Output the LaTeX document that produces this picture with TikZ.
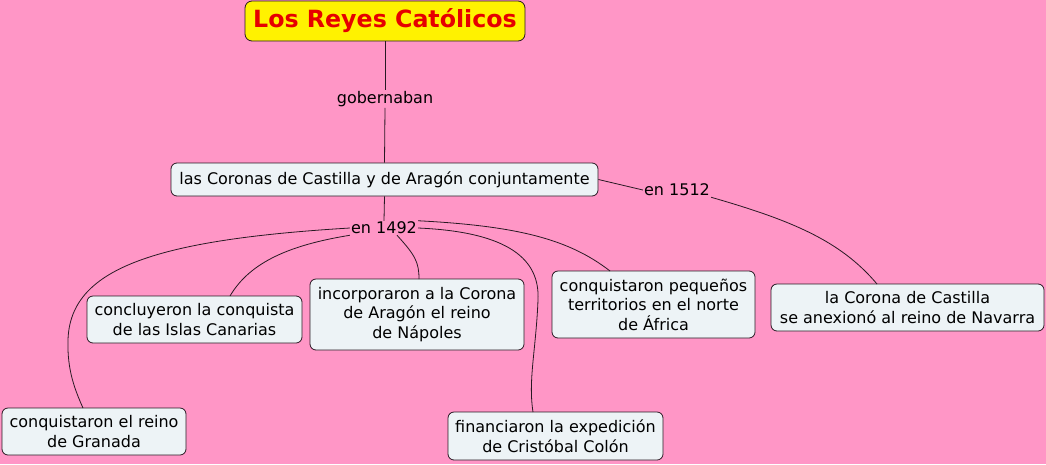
\documentclass[tikz,border=0pt]{standalone}
\usepackage{fontspec}
\setmainfont{DejaVu Sans}
\definecolor{bg}{RGB}{255,150,198}
\definecolor{boxfill}{RGB}{237,243,246}
\definecolor{ln}{RGB}{40,25,35}
\definecolor{titlered}{RGB}{230,0,0}
\begin{document}
\begin{tikzpicture}[x=1pt,y=-1pt,
  concept/.style={draw=ln, line width=0.8pt, fill=boxfill, rounded corners=6pt, align=center, font=\fontsize{16}{19.5}\selectfont, inner sep=0pt},
  lbl/.style={fill=bg, inner sep=1pt, font=\fontsize{16}{18}\selectfont},
  conn/.style={draw=ln, line width=0.8pt}]
\fill[bg] (0,0) rectangle (1046,464);
\useasboundingbox (0,0) rectangle (1046,464);
% nodes
\node[draw=ln, line width=0.8pt, fill=yellow, rounded corners=7pt, minimum width=280pt, minimum height=40pt, inner sep=0pt,
  font=\fontsize{23.7}{28}\selectfont\bfseries, text=titlered] (title) at (385,21) {Los Reyes Católicos};
\node[concept, minimum width=427pt, minimum height=33pt] (coronas) at (384.5,179.5) {las Coronas de Castilla y de Aragón conjuntamente};
\node[concept, minimum width=215pt, minimum height=47pt] (canarias) at (194.5,319.5) {concluyeron la conquista\\de las Islas Canarias};
\node[concept, minimum width=214pt, minimum height=71pt] (napoles) at (417,314.5) {incorporaron a la Corona\\de Aragón el reino\\de Nápoles};
\node[concept, minimum width=203pt, minimum height=67pt] (africa) at (653.5,304.5) {conquistaron pequeños\\territorios en el norte\\de África};
\node[concept, minimum width=273pt, minimum height=47pt] (navarra) at (907.5,307.5) {la Corona de Castilla\\se anexionó al reino de Navarra};
\node[concept, minimum width=184pt, minimum height=47pt] (granada) at (94,431.5) {conquistaron el reino\\de Granada};
\node[concept, minimum width=215pt, minimum height=48pt] (colon) at (555.5,436) {financiaron la expedición\\de Cristóbal Colón};
\node[lbl] (gob) at (385,99) {gobernaban};
\node[lbl] (e1492) at (384,228) {en 1492};
\node[lbl] (e1512) at (677,190) {en 1512};
% connectors
\draw[conn] (title.south) -- (gob.north);
\draw[conn] (gob.south) -- (coronas.north);
\draw[conn] (coronas.south) -- (e1492.north);
\draw[conn] (coronas.east) -- (e1512.west);
\draw[conn] (e1512.south east) .. controls (790,220) and (840,240) .. (877,284);
\draw[conn] (e1492.west) .. controls (150,240) and (70,270) .. (68,340) .. controls (67,370) and (75,390) .. (83,408);
\draw[conn] (e1492.south west) .. controls (290,245) and (250,262) .. (230,296);
\draw[conn] (e1492.south) ++(13,0) .. controls (415,255) and (419,262) .. (419,279);
\draw[conn] (e1492.east) .. controls (510,232) and (540,260) .. (538,300) .. controls (536,350) and (528,380) .. (533,412);
\draw[conn] (e1492.north east) .. controls (520,226) and (570,240) .. (610,271);
\end{tikzpicture}
\end{document}
